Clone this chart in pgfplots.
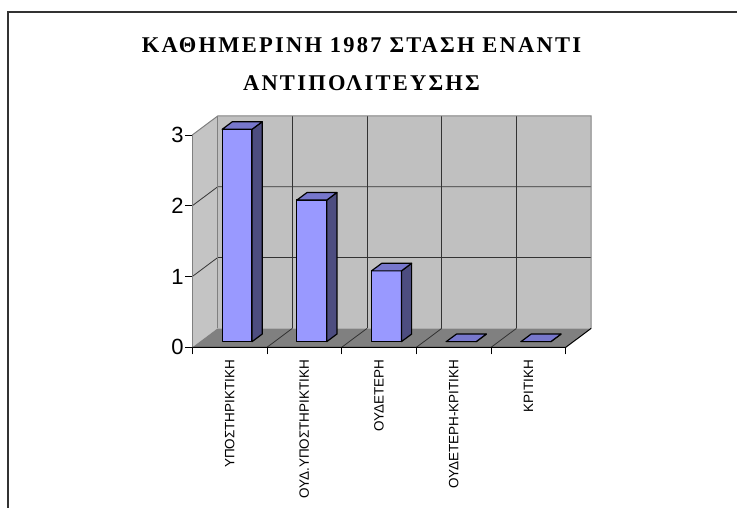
\documentclass[border=0pt]{standalone}
\usepackage{pgfplots}
\pgfplotsset{compat=1.18}
\usepackage{fontspec}
\setmainfont{Liberation Sans}
\newfontfamily\titlefont[LetterSpace=10]{Liberation Serif}
\definecolor{wall}{HTML}{C0C0C0}
\definecolor{lwall}{HTML}{C4C4C4}
\definecolor{floorc}{HTML}{808080}
\definecolor{edgec}{HTML}{808080}
\definecolor{gridc}{HTML}{333333}
\definecolor{barfront}{HTML}{9999FF}
\definecolor{barside}{HTML}{4D4D80}
\definecolor{bartop}{HTML}{7777CC}
\begin{document}
\begin{tikzpicture}
\useasboundingbox (-192.3pt,-160.7pt) rectangle (544.7pt,347.3pt);
\draw[line width=1.6pt, color=black!80] (-184.3pt,-161pt) -- (-184.3pt,335.3pt) -- (545pt,335.3pt);
\begin{axis}[
  at={(0,0)}, anchor=south west,
  scale only axis, width=398.9pt, height=231.3pt,
  xmin=0, xmax=5.34, ymin=0, ymax=3.268,
  clip=false,
  axis line style={draw=none},
  tick pos=left, tick align=outside,
  major tick length=7pt,
  tick style={black, line width=0.8pt},
  ytick={0,1,2,3},
  /pgf/number format/assume math mode=true,
  y tick label style={font=\fontsize{22}{24}\selectfont, inner xsep=1.5pt},
  xtick={0,1,2,3,4,5},
  xticklabels={},
  extra x ticks={0.5,1.5,2.5,3.5,4.5},
  extra x tick labels={ΥΠΟΣΤΗΡΙΚΤΙΚΗ,ΟΥΔ.ΥΠΟΣΤΗΡΙΚΤΙΚΗ,ΟΥΔΕΤΕΡΗ,ΟΥΔΕΤΕΡΗ-ΚΡΙΤΙΚΗ,ΚΡΙΤΙΚΗ},
  extra x tick style={major tick length=0pt, xticklabel shift=9pt,
     tick label style={rotate=90, anchor=east, font=\fontsize{13.5}{15}\selectfont}},
]
% walls and floor
\addplot[fill=wall, draw=none] coordinates {(0.34,0.268) (5.34,0.268) (5.34,3.268) (0.34,3.268)} --cycle;
\addplot[fill=lwall, draw=none] coordinates {(0,0) (0.34,0.268) (0.34,3.268) (0,3)} --cycle;
\addplot[fill=floorc, draw=none] coordinates {(0,0) (5,0) (5.34,0.268) (0.34,0.268)} --cycle;
% grid on back wall
\foreach \g in {1,2} {
  \edef\tmp{\noexpand\addplot[gridc, line width=0.8pt] coordinates {(0,\g) (0.34,\g+0.268) (5.34,\g+0.268)};}
  \tmp
}
\foreach \g in {1.34,2.34,3.34,4.34} {
  \edef\tmp{\noexpand\addplot[gridc, line width=0.8pt] coordinates {(\g,0.268) (\g,3.268)};}
  \tmp
}
\foreach \g in {1,2,3,4} {
  \edef\tmp{\noexpand\addplot[gridc, line width=0.8pt] coordinates {(\g,0) (\g+0.34,0.268)};}
  \tmp
}
% wall edges
\addplot[edgec, line width=1pt] coordinates {(0,3) (0.34,3.268) (5.34,3.268) (5.34,0.268)};
\addplot[edgec, line width=1pt] coordinates {(0,0) (0,3)};
\addplot[edgec, line width=0.6pt] coordinates {(0.34,0.268) (0.34,3.268)};
\addplot[black, line width=1pt] coordinates {(0,0) (5,0) (5.34,0.268)};
% bars: category index / value
\foreach \i/\v in {0/3,1/2,2/1,3/0,4/0} {
  \pgfmathsetmacro{\xa}{\i+0.40}
  \pgfmathsetmacro{\xb}{\i+0.80}
  \pgfmathsetmacro{\xc}{\i+0.936}
  \pgfmathsetmacro{\xd}{\i+0.536}
  \pgfmathsetmacro{\ya}{\v+0.08}
  \pgfmathsetmacro{\yb}{\v+0.187}
  \edef\tmp{\noexpand\addplot[draw=black, line width=1.2pt, fill=barfront, line join=round] coordinates {(\xa,0.08) (\xb,0.08) (\xb,\ya) (\xa,\ya)} --cycle;
    \noexpand\addplot[draw=black, line width=1.2pt, fill=barside, line join=round] coordinates {(\xb,0.08) (\xc,0.187) (\xc,\yb) (\xb,\ya)} --cycle;
    \noexpand\addplot[draw=black, line width=1.2pt, fill=bartop, line join=round] coordinates {(\xa,\ya) (\xb,\ya) (\xc,\yb) (\xd,\yb)} --cycle;}
  \tmp
}
\end{axis}
\node[font=\titlefont\bfseries\fontsize{22.5}{24}\selectfont, anchor=base] at (169.2pt,294.3pt) {ΚΑΘΗΜΕΡΙΝΗ 1987 ΣΤΑΣΗ ΕΝΑΝΤΙ};
\node[font=\titlefont\bfseries\fontsize{22.5}{24}\selectfont, anchor=base] at (169.2pt,256.3pt) {ΑΝΤΙΠΟΛΙΤΕΥΣΗΣ};
\end{tikzpicture}
\end{document}
